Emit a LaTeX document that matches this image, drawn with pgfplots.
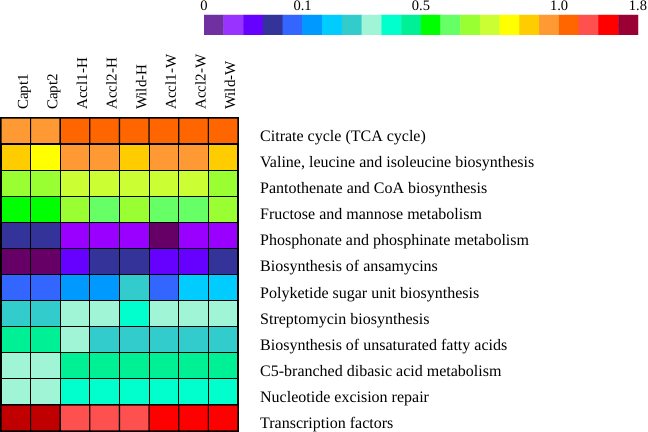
\documentclass[border=0pt]{standalone}
\usepackage{pgfplots}
\pgfplotsset{compat=1.18}
\usepackage{pgfplotstable}
\usepackage{fontspec}
\setmainfont{Liberation Serif}

\pgfplotsset{colormap={hm}{rgb255=(112,48,160) rgb255=(153,51,255) rgb255=(102,0,255) rgb255=(51,51,153) rgb255=(51,102,255) rgb255=(0,153,255) rgb255=(0,204,255) rgb255=(51,204,204) rgb255=(160,245,215) rgb255=(0,255,204) rgb255=(0,240,150) rgb255=(0,255,0) rgb255=(102,255,102) rgb255=(153,255,51) rgb255=(204,255,51) rgb255=(255,255,0) rgb255=(255,204,0) rgb255=(255,153,51) rgb255=(255,102,0) rgb255=(255,80,80) rgb255=(255,0,0) rgb255=(153,0,51) rgb255=(102,0,102) rgb255=(192,0,0) rgb255=(153,0,255)}}

% heatmap: x = sample column, y = pathway row, c = colour class
\pgfplotstableread{
x y c
0 0 17
1 0 17
2 0 18
3 0 18
4 0 18
5 0 18
6 0 18
7 0 18
0 1 16
1 1 15
2 1 17
3 1 17
4 1 16
5 1 17
6 1 17
7 1 16
0 2 13
1 2 13
2 2 14
3 2 14
4 2 14
5 2 14
6 2 14
7 2 13
0 3 11
1 3 11
2 3 13
3 3 12
4 3 13
5 3 12
6 3 12
7 3 13
0 4 3
1 4 3
2 4 24
3 4 24
4 4 24
5 4 22
6 4 24
7 4 24
0 5 22
1 5 22
2 5 2
3 5 3
4 5 3
5 5 2
6 5 2
7 5 3
0 6 4
1 6 4
2 6 5
3 6 5
4 6 7
5 6 4
6 6 6
7 6 6
0 7 7
1 7 7
2 7 8
3 7 8
4 7 9
5 7 8
6 7 8
7 7 8
0 8 10
1 8 10
2 8 8
3 8 7
4 8 7
5 8 7
6 8 7
7 8 7
0 9 8
1 9 8
2 9 10
3 9 10
4 9 10
5 9 10
6 9 10
7 9 10
0 10 8
1 10 8
2 10 9
3 10 9
4 10 9
5 10 9
6 10 9
7 10 9
0 11 23
1 11 23
2 11 19
3 11 19
4 11 19
5 11 20
6 11 20
7 11 20
}\heat

\pgfplotstableread{
x y c
0 0 0
1 0 1
2 0 2
3 0 3
4 0 4
5 0 5
6 0 6
7 0 7
8 0 8
9 0 9
10 0 10
11 0 11
12 0 12
13 0 13
14 0 14
15 0 15
16 0 16
17 0 17
18 0 18
19 0 19
20 0 20
21 0 21
0 1 0
1 1 1
2 1 2
3 1 3
4 1 4
5 1 5
6 1 6
7 1 7
8 1 8
9 1 9
10 1 10
11 1 11
12 1 12
13 1 13
14 1 14
15 1 15
16 1 16
17 1 17
18 1 18
19 1 19
20 1 20
21 1 21
}\cbar

\begin{document}
\begin{tikzpicture}
\useasboundingbox (0,0) rectangle (648bp,432bp);
\begin{axis}[
  at={(1bp,1bp)}, anchor=south west,
  width=237bp, height=313bp, scale only axis,
  xmin=-0.5, xmax=7.5, ymin=-0.5, ymax=11.5,
  y dir=reverse,
  colormap access=direct,
  axis line style={line width=1.2bp},
  major tick length=0pt,
  tick style={draw=none},
  xtick={0,...,7},
  xticklabels={Capt1,Capt2,Accl1-H,Accl2-H,Wild-H,Accl1-W,Accl2-W,Wild-W},
  xticklabel pos=right,
  xticklabel style={font=\fontsize{15bp}{17bp}\selectfont, xshift=12bp, yshift=8bp, rotate=90, anchor=base west, inner sep=0pt},
  ytick={0,...,11},
  yticklabels={{Citrate cycle (TCA cycle)},{Valine, leucine and isoleucine biosynthesis},{Pantothenate and CoA biosynthesis},{Fructose and mannose metabolism},{Phosphonate and phosphinate metabolism},{Biosynthesis of ansamycins},{Polyketide sugar unit biosynthesis},{Streptomycin biosynthesis},{Biosynthesis of unsaturated fatty acids},{C5-branched dibasic acid metabolism},{Nucleotide excision repair},{Transcription factors}},
  yticklabel pos=right,
  yticklabel style={font=\fontsize{16bp}{18bp}\selectfont, anchor=base west, inner sep=0pt, xshift=22bp, yshift=-10.5bp},
]
\addplot[matrix plot*, mesh/cols=8, point meta=explicit, draw=black, line width=1.2bp] table[x=x, y=y, meta=c] {\heat};
\end{axis}

\begin{axis}[
  at={(204bp,397bp)}, anchor=south west,
  width=434bp, height=20bp, scale only axis,
  xmin=-0.5, xmax=21.5, ymin=-0.5, ymax=1.5,
  colormap access=direct,
  axis line style={draw=none},
  major tick length=0pt,
  tick style={draw=none},
  ytick=\empty,
  xtick={-0.5,4.5,10.5,17.5,21.5},
  xticklabels={0,0.1,0.5,1.0,1.8},
  xticklabel pos=right,
  xticklabel style={font=\fontsize{14.5bp}{16bp}\selectfont, anchor=south, inner sep=0pt, yshift=4bp},
]
\addplot[matrix plot*, mesh/cols=22, point meta=explicit, draw=none] table[x=x, y=y, meta=c] {\cbar};
\end{axis}
\end{tikzpicture}
\end{document}
